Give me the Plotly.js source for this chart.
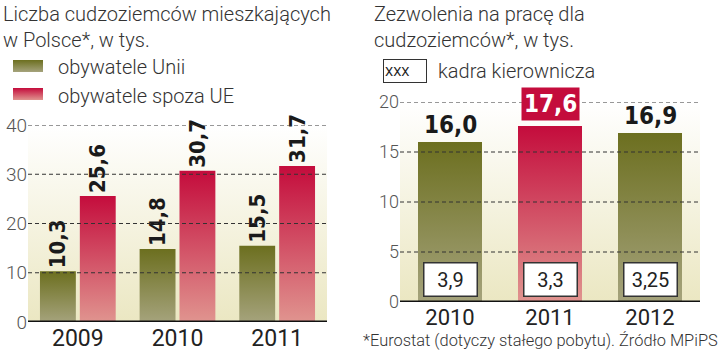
<!DOCTYPE html>
<html><head><meta charset="utf-8">
<script src="https://cdn.plot.ly/plotly-3.0.1.min.js"></script>
<style>html,body{margin:0;padding:0;background:#fff}#chart{width:720px;height:351px}</style>
</head><body><div id="chart"></div>
<script>
// ---- data ----
const leftTitle = 'Liczba cudzoziemców mieszkających<br>w Polsce*, w tys.';
const leftYears = ['2009', '2010', '2011'];
const seriesNames = ['obywatele Unii', 'obywatele spoza UE'];
const euCitizens = [10.3, 14.8, 15.5];
const nonEuCitizens = [25.6, 30.7, 31.7];
const leftTicks = [0, 10, 20, 30, 40];

const rightTitle = 'Zezwolenia na pracę dla<br>cudzoziemców*, w tys.';
const rightYears = ['2010', '2011', '2012'];
const permits = [16.0, 17.6, 16.9];
const managers = [3.9, 3.3, 3.25];
const highlightYear = '2011';
const managersLabel = 'kadra kierownicza';
const legendBoxText = 'XXX';
const rightTicks = [0, 5, 10, 15, 20];
const footnote = '*Eurostat (dotyczy stałego pobytu). Źródło MPiPS';

// ---- styling ----
const W = 720, H = 351;
const px = v => v / W, py = v => 1 - v / H;
const GREEN = 'rgb(120,121,52)', RED = 'rgb(201,40,72)', BG = 'rgb(247,245,230)';
const FONT = 'Roboto';
const BOLD = 'DejaVu Sans Condensed';
const fmt = v => String(v).replace('.', ',');
const fmt1 = v => v.toFixed(1).replace('.', ',');

const data = [
  {type: 'bar', name: seriesNames[0], x: leftYears, y: euCitizens, xaxis: 'x', yaxis: 'y',
   marker: {color: GREEN}, texttemplate: '%{y:.1f}', textposition: 'outside', textangle: -90, constraintext: 'none',
   textfont: {family: BOLD, size: 22, weight: 'bold', color: '#1a1a1a'}, cliponaxis: false, hoverinfo: 'none'},
  {type: 'bar', name: seriesNames[1], x: leftYears, y: nonEuCitizens, xaxis: 'x', yaxis: 'y',
   marker: {color: RED}, texttemplate: '%{y:.1f}', textposition: 'outside', textangle: -90, constraintext: 'none',
   textfont: {family: BOLD, size: 22, weight: 'bold', color: '#1a1a1a'}, cliponaxis: false, hoverinfo: 'none'},
  {type: 'bar', name: 'Zezwolenia', x: rightYears, y: permits, xaxis: 'x2', yaxis: 'y2', width: 0.64,
   marker: {color: rightYears.map(y => y === highlightYear ? RED : GREEN)}, hoverinfo: 'none'}
];

const grid = (ticks, xr, yr) => ticks.filter(t => t > 0).map(t => ({
  type: 'line', xref: xr + ' domain', x0: 0, x1: 1, yref: yr, y0: t, y1: t, layer: 'above',
  line: {color: '#333', width: 1, dash: '4px,3px'}
}));
const baseline = (xr, yr) => ({
  type: 'line', xref: xr + ' domain', x0: 0, x1: 1, yref: yr, y0: 0, y1: 0, layer: 'above',
  line: {color: '#111', width: 3}
});

const shapes = [
  ...grid(leftTicks, 'x', 'y'),
  ...grid(rightTicks, 'x2', 'y2'),
  baseline('x', 'y'), baseline('x2', 'y2'),
  {type: 'rect', xref: 'paper', yref: 'paper', x0: px(13), x1: px(43), y0: py(72), y1: py(60), fillcolor: GREEN, line: {width: 0}},
  {type: 'rect', xref: 'paper', yref: 'paper', x0: px(13), x1: px(43), y0: py(100), y1: py(88), fillcolor: RED, line: {width: 0}}
];

const txt = (text, x, y, size, extra) => Object.assign({
  text, xref: 'paper', yref: 'paper', x, y, xanchor: 'left', yanchor: 'middle', showarrow: false, align: 'left',
  font: {family: FONT, size, weight: 300, color: '#333'}
}, extra || {});

const annotations = [
  txt(leftTitle, px(1), py(0), 20, {yanchor: 'top'}),
  txt(rightTitle, px(372), py(0), 20, {yanchor: 'top'}),
  txt(seriesNames[0], px(56), py(67), 20),
  txt(seriesNames[1], px(56), py(96), 20),
  txt(legendBoxText, px(405), py(71), 13, {xanchor: 'center', bordercolor: '#333', borderwidth: 1, borderpad: 1, bgcolor: '#fff', width: 40, height: 20, font: {family: FONT, size: 13, weight: 400, color: '#222'}}),
  txt(managersLabel, px(436), py(71), 20),
  txt(footnote, px(361), py(340), 16.4),
  ...rightYears.map((yr, i) => ({
    text: fmt1(permits[i]), xref: 'x2', yref: 'y2', x: i, y: permits[i], yanchor: 'bottom', xanchor: 'center',
    showarrow: false, yshift: yr === highlightYear ? 5 : 2,
    bgcolor: yr === highlightYear ? '#c40c3c' : 'rgba(0,0,0,0)', borderpad: yr === highlightYear ? 2 : 0,
    font: {family: BOLD, size: 24, weight: 'bold', color: yr === highlightYear ? '#fff' : '#1a1a1a'}
  })),
  ...rightYears.map((yr, i) => ({
    text: fmt(managers[i]), xref: 'x2', yref: 'y2 domain', x: i, y: 0.115, yanchor: 'middle', xanchor: 'center',
    showarrow: false, bgcolor: '#fff', bordercolor: '#333', borderwidth: 1.5, borderpad: 1, width: 50, height: 30,
    font: {family: FONT, size: 20, weight: 400, color: '#222'}
  }))
];

const xCommon = {type: 'category', range: [-0.5, 2.5], autorange: false, showgrid: false, zeroline: false, ticks: '', showline: false,
  tickfont: {family: FONT, size: 23, weight: 400, color: '#222'}, fixedrange: true};
const yCommon = {showgrid: false, zeroline: false, showline: false, ticks: '',
  tickfont: {family: FONT, size: 19, weight: 300, color: '#555'}, fixedrange: true};

const layout = {
  width: W, height: H, margin: {l: 0, r: 0, t: 0, b: 0},
  paper_bgcolor: '#fff', plot_bgcolor: BG, showlegend: false, separators: ',.',
  barmode: 'group', bargap: 0.2, bargroupgap: 0.1,
  xaxis: Object.assign({}, xCommon, {domain: [px(28), px(327)], anchor: 'y'}),
  yaxis: Object.assign({}, yCommon, {domain: [py(322), py(125)], range: [0, 40], tickvals: leftTicks, anchor: 'x'}),
  xaxis2: Object.assign({}, xCommon, {domain: [px(400), px(700)], anchor: 'y2', tickfont: {family: FONT, size: 22, weight: 400, color: '#222'}}),
  yaxis2: Object.assign({}, yCommon, {domain: [py(302), py(102)], range: [0, 20], tickvals: rightTicks, anchor: 'x2', tickfont: {family: FONT, size: 18, weight: 300, color: '#555'}}),
  shapes, annotations
};

Plotly.newPlot('chart', data, layout, {staticPlot: true, displayModeBar: false}).then(gd => {
  const ns = 'http://www.w3.org/2000/svg';
  const svg = gd.querySelector('svg.main-svg');
  let defs = svg.querySelector('defs');
  if (!defs) { defs = document.createElementNS(ns, 'defs'); svg.insertBefore(defs, svg.firstChild); }
  const grad = (id, stops) => {
    const g = document.createElementNS(ns, 'linearGradient');
    g.setAttribute('id', id); g.setAttribute('x1', '0'); g.setAttribute('y1', '0'); g.setAttribute('x2', '0'); g.setAttribute('y2', '1');
    stops.forEach(([o, c]) => { const s = document.createElementNS(ns, 'stop'); s.setAttribute('offset', o); s.setAttribute('stop-color', c); g.appendChild(s); });
    defs.appendChild(g);
  };
  grad('gGreen', [[0, '#6c6f1f'], [1, '#a5a37c']]);
  grad('gRed', [[0, '#c40c3c'], [1, '#e0948f']]);
  grad('gBg', [[0, '#ffffff'], [1, '#ebe7c2']]);
  const map = {'rgb(120, 121, 52)': 'url(#gGreen)', 'rgb(201, 40, 72)': 'url(#gRed)', 'rgb(247, 245, 230)': 'url(#gBg)'};
  gd.querySelectorAll('path, rect').forEach(el => { const f = el.style.fill; if (map[f]) el.style.fill = map[f]; });
});
</script>
</body></html>
